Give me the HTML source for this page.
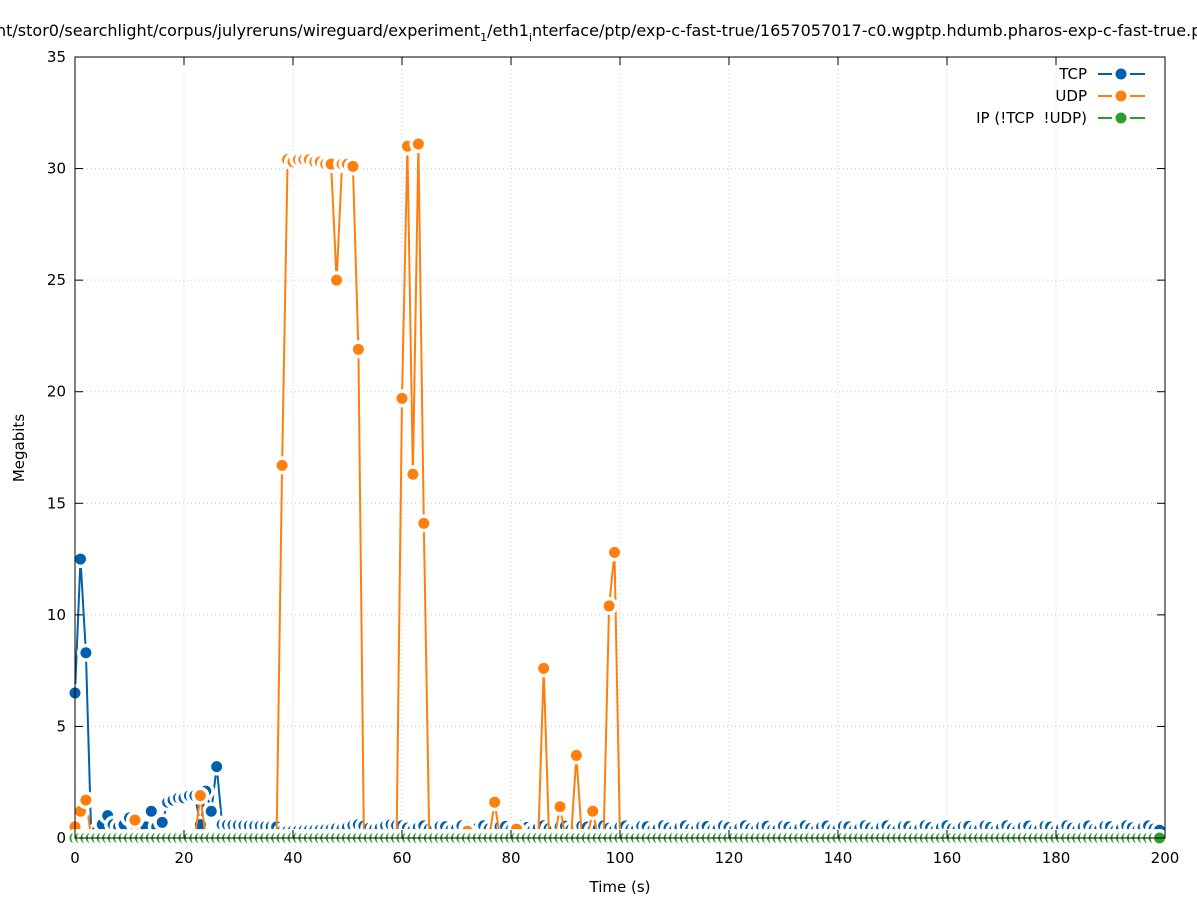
<!DOCTYPE html>
<html><head><meta charset="utf-8"><style>
body{margin:0;background:#fff;}
svg text{font-family:"DejaVu Sans","Liberation Sans",sans-serif;}
</style></head><body>
<svg id="s" width="1197" height="900" xmlns="http://www.w3.org/2000/svg"></svg>
<script>
const s=document.getElementById('s');
const X0=75,X1=1165,Y0=838,Y1=57;
const px=t=>X0+t*(X1-X0)/200, py=v=>Y0-v*(Y0-Y1)/35;
let h='';
h+=`<text x="-4" y="36" font-size="16">nt/stor0/searchlight/corpus/julyreruns/wireguard/experiment<tspan font-size="11" dy="5">1</tspan><tspan dy="-5">/eth1</tspan><tspan font-size="11" dy="5">i</tspan><tspan dy="-5">nterface/ptp/exp-c-fast-true/1657057017-c0.wgptp.hdumb.pharos-exp-c-fast-true.pcap</tspan></text>`;
let ax='';
for(let v=0;v<=35;v+=5){const y=py(v);
 if(v>0&&v<35)h+=`<line x1="${X0}" x2="${X1}" y1="${y}" y2="${y}" stroke="#ccc" stroke-dasharray="1,3"/>`;
 ax+=`<line x1="${X0}" x2="${X0+8}" y1="${y}" y2="${y}" stroke="#000"/><line x1="${X1-8}" x2="${X1}" y1="${y}" y2="${y}" stroke="#000"/>`;
 h+=`<text x="${X0-9}" y="${y+5}" font-size="15" text-anchor="end">${v}</text>`;}
for(let t=0;t<=200;t+=20){const x=px(t);
 if(t>0&&t<200)h+=`<line x1="${x}" x2="${x}" y1="${Y1}" y2="${Y0}" stroke="#ccc" stroke-dasharray="1,3"/>`;
 ax+=`<line x1="${x}" x2="${x}" y1="${Y0}" y2="${Y0-8}" stroke="#000"/><line x1="${x}" x2="${x}" y1="${Y1}" y2="${Y1+8}" stroke="#000"/>`;
 h+=`<text x="${x}" y="${Y0+25}" font-size="15" text-anchor="middle">${t}</text>`;}
ax+=`<rect x="${X0}" y="${Y1}" width="${X1-X0}" height="${Y0-Y1}" fill="none" stroke="#000"/>`;
h+=`<text x="620" y="892" font-size="15" text-anchor="middle">Time (s)</text>`;
h+=`<text transform="translate(24,448) rotate(-90)" font-size="15" text-anchor="middle">Megabits</text>`;
const tcp=[],udp=[],ip=[];
const tk={0:6.5,1:12.5,2:8.3,3:0,4:0.3,5:0.6,6:1.0,7:0.6,8:0.5,9:0.6,10:0.9,11:0.6,12:0.5,13:0.5,14:1.2,15:0.5,16:0.7,17:1.6,18:1.7,19:1.8,20:1.8,21:1.9,22:1.9,23:0.6,24:2.1,25:1.2,26:3.2};
const uk={0:0.5,1:1.2,2:1.7,11:0.8,23:1.9,38:16.7,39:30.4,40:30.3,41:30.4,42:30.4,43:30.4,44:30.3,45:30.3,46:30.2,47:30.2,48:25,49:30.2,50:30.2,51:30.1,52:21.9,60:19.7,61:31,62:16.3,63:31.1,64:14.1,72:0.3,77:1.6,81:0.4,86:7.6,89:1.4,92:3.7,95:1.2,98:10.4,99:12.8};
for(let t=0;t<=199;t++){
 let v;
 if(t in tk)v=tk[t];
 else if(t<38)v=0.6-(t-27)*0.01;
 else if(t<48)v=0.3+(t-38)*0.01;
 else if(t<60)v=0.5+0.1*Math.sin(t);
 else v=0.45+0.1*Math.sin(t*1.7);
 if(t>=199)v=0.35;
 tcp.push([t,v]);
 udp.push([t,t in uk?uk[t]:0]);
 ip.push([t,0]);
}
function series(d,c,skip){
 let p=d.map(([t,v])=>`${px(t).toFixed(1)},${py(v).toFixed(1)}`).join(' ');
 let o=`<polyline points="${p}" fill="none" stroke="${c}" stroke-width="2"/>`;
 d.forEach(([t,v])=>{if(skip&&v===0)return;const x=px(t),y=py(v);
  o+=`<circle cx="${x}" cy="${y}" r="9" fill="#fff"/><circle cx="${x}" cy="${y}" r="5.5" fill="${c}"/>`;});
 return o;
}
h+=series(tcp,'#0060ad',false);
h+=series(udp,'#ff7f0e',true);
h+=series(ip,'#2ca02c',false);
h+=ax;
[['TCP','#0060ad',74],['UDP','#ff7f0e',96],['IP (!TCP  !UDP)','#2ca02c',118]].forEach(([n,c,y])=>{
 h+=`<text x="1087" y="${y+5}" font-size="15" text-anchor="end" xml:space="preserve">${n}</text>`;
 h+=`<line x1="1098" x2="1145" y1="${y}" y2="${y}" stroke="${c}" stroke-width="2"/><circle cx="1121" cy="${y}" r="9" fill="#fff"/><circle cx="1121" cy="${y}" r="5.5" fill="${c}"/>`;
});
s.innerHTML=h;
</script>
</body></html>
